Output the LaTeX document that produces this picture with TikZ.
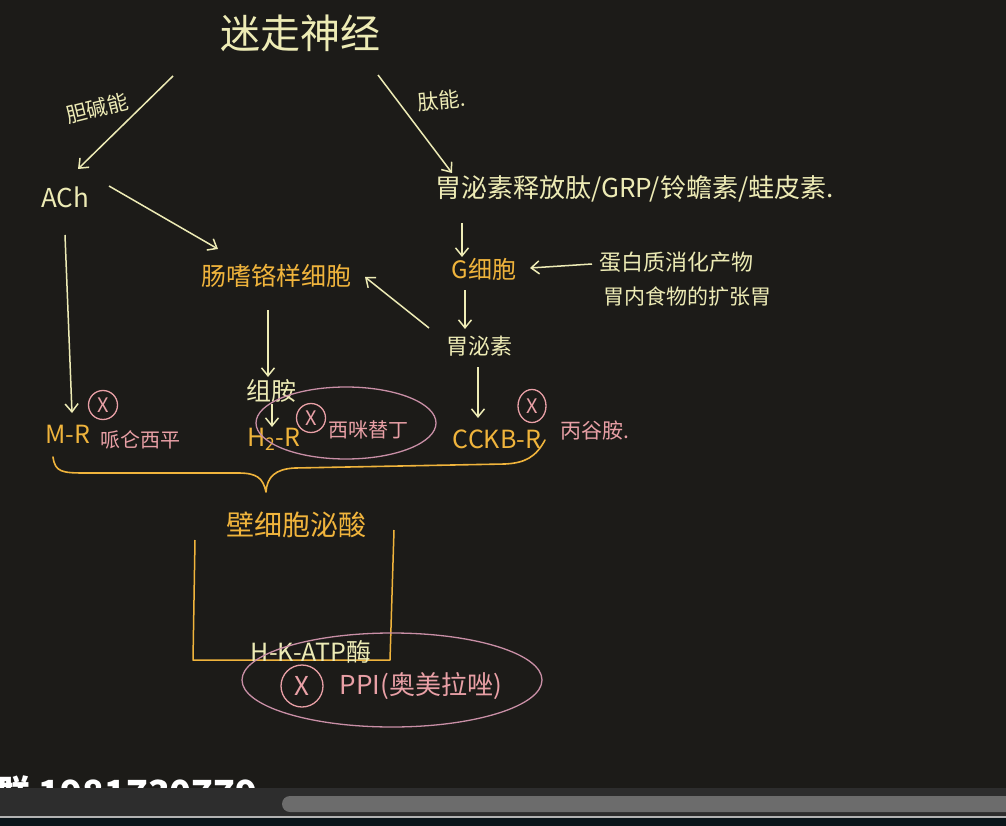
\documentclass[tikz,border=0pt]{standalone}
\usepackage{fontspec}
\setmainfont{Noto Sans CJK SC}
\usetikzlibrary{arrows.meta,calc,shapes.geometric}
\definecolor{bg}{HTML}{1C1B18}
\definecolor{cream}{HTML}{EDEBB5}
\definecolor{orng}{HTML}{F0B43C}
\definecolor{pnk}{HTML}{E9A0A6}
\definecolor{mauve}{HTML}{C98FA6}
\definecolor{barbg}{HTML}{2D2D2D}
\definecolor{thumb}{HTML}{6C6C6C}
\definecolor{navy}{HTML}{0B151A}
\newcommand\fsz[1]{\fontsize{#1}{#1}\selectfont}
\tikzset{
  arr/.style={draw=cream, line width=1.5pt, -{Straight Barb[length=8pt,width=13pt,line width=1.5pt]}},
  crm/.style={text=cream, inner sep=0pt},
  org/.style={text=orng, inner sep=0pt},
  pk/.style={text=pnk, inner sep=0pt},
  xmark/.style={circle, draw=pnk, line width=1.3pt, text=pnk, inner sep=0pt, minimum size=29pt, font=\fsz{20}},
  ring/.style={ellipse, draw=mauve, line width=1.3pt, inner sep=0pt},
  brace/.style={draw=orng, line width=1.6pt, line cap=round, line join=round},
}
\begin{document}
\begin{tikzpicture}[x=1pt,y=-1pt]
\useasboundingbox (0,0) rectangle (1006,826);
\fill[bg] (0,0) rectangle (1006,826);

% title and branches
\node[crm, font=\fsz{40}] (vagus) at (300,33) {迷走神经};
\node[crm, font=\fsz{21}, rotate=14] (chol) at (97,108) {胆碱能};
\node[crm, font=\fsz{21}, rotate=5] (pep) at (442,100) {肽能.};
\node[crm, font=\fsz{26}] (ACh) at (65,197) {ACh};
\node[crm, font=\fsz{26}, anchor=west] (grp) at (435,189) {胃泌素释放肽/GRP/铃蟾素/蛙皮素.};
\node[org, font=\fsz{24}] (G) at (484,269) {G细胞};
\node[crm, font=\fsz{22}, anchor=west] (stimA) at (599,262) {蛋白质消化产物};
\node[crm, font=\fsz{21}, anchor=west] (stimB) at (603,296) {胃内食物的扩张胃};
\node[org, font=\fsz{25}] (ecl) at (276,276) {肠嗜铬样细胞};
\node[crm, font=\fsz{22}] (gastrin) at (479,346) {胃泌素};
\node[crm, font=\fsz{25}] (hist) at (271,391) {组胺};

% receptors
\node[org, font=\fsz{25}] (MR) at (68,434) {M-R};
\node[org, font=\fsz{25}] (H2R) at (274,439) {H\textsubscript{2}-R};
\node[org, font=\fsz{25}] (CCKB) at (497,439) {CCKB-R};
\node[xmark] (xM) at (103,405) {X};
\node[xmark] (xH) at (311,418) {X};
\node[xmark, minimum width=28pt, minimum height=33pt, ellipse] (xC) at (532,406) {X};
\node[pk, font=\fsz{20}] (pirenz) at (140,440) {哌仑西平};
\node[pk, font=\fsz{20}] (cimet) at (368,430) {西咪替丁};
\node[pk, font=\fsz{21}] (proglu) at (595,431) {丙谷胺.};
\node[ring, minimum width=180pt, minimum height=72pt] (cimRing) at (346,423) {};

% arrows
\draw[arr] ($(vagus)+(-127,43)$) -- ($(ACh)+(13,-28)$);
\draw[arr] ($(vagus)+(78,42)$) -- ($(grp.west)+(17,-16)$);
\draw[arr] ($(ACh)+(44,-11)$) -- ($(ecl)+(-58,-27)$);
\draw[arr] ($(ACh)+(0,38)$) -- ($(MR)+(4,-21)$);
\draw[arr] ($(grp.west)+(27,34)$) -- ($(G)+(-22,-12)$);
\draw[arr] ($(stimA.west)+(-7,2)$) -- ($(G)+(46,-1)$);
\draw[arr] ($(G)+(-19,21)$) -- ($(gastrin)+(-14,-17)$);
\draw[arr] ($(gastrin)+(-50,-18)$) -- ($(ecl)+(89,1)$);
\draw[arr] ($(ecl)+(-8,34)$) -- ($(hist)+(-3,-14)$);
\draw[arr] ($(hist)+(1,13)$) -- ($(H2R)+(-2,-12)$);
\draw[arr] ($(gastrin)+(-1,21)$) -- ($(CCKB)+(-19,-21)$);

% brace
\coordinate (bL) at (53,457);
\coordinate (bTip) at (266,492);
\coordinate (bR) at (545,440);
\draw[brace] (bL) .. controls (55,472) and (62,473) .. (85,473) -- (238,473)
  .. controls (257,473) and (263,478) .. (bTip)
  .. controls (267,477) and (275,469) .. (295,468) -- (505,464)
  .. controls (525,463) and (536,457) .. (bR);

% parietal cell
\node[org, font=\fsz{28}] (pariet) at (296,525) {壁细胞泌酸};
\draw[draw=orng, line width=1.5pt, line join=round]
  (195,540) -- (193,660) -- (390,660) -- (394,530);
\node[crm, font=\fsz{25}] (hk) at (311,652) {H-K-ATP酶};
\node[ring, minimum width=300pt, minimum height=94pt] (ppiRing) at (392,680) {};
\node[xmark, minimum size=42pt, font=\fsz{26}] (xP) at (302,686) {X};
\node[pk, font=\fsz{26}] (ppi) at (421,686) {PPI(奥美拉唑)};

% player bar
\node[text=white, font=\fsz{36}\bfseries, anchor=base west, inner sep=0pt] (wm) at (-6,806) {群 1981730779};
\fill[barbg] (0,788) rectangle (1006,816);
\fill[thumb, rounded corners=8pt] (282,796) rectangle (1016,812);
\fill[gray!60] (0,816) rectangle (1006,818);
\fill[navy] (0,818) rectangle (1006,826);
\end{tikzpicture}
\end{document}
